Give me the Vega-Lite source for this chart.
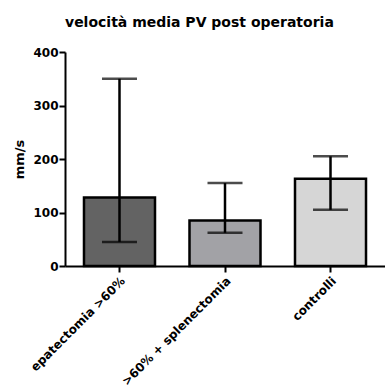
{
  "$schema": "https://vega.github.io/schema/vega-lite/v6.json",
  "autosize": {"type": "none"},
  "width": 320,
  "height": 214,
  "padding": {"left": 65, "top": 52, "right": 0, "bottom": 119},
  "background": "white",
  "title": {
    "text": "velocità media PV post operatoria",
    "font": "DejaVu Sans",
    "fontSize": 14,
    "fontWeight": "bold",
    "color": "black",
    "anchor": "start",
    "frame": "group",
    "offset": 16
  },
  "config": {
    "view": {"stroke": null},
    "axis": {
      "labelFont": "DejaVu Sans",
      "titleFont": "DejaVu Sans",
      "labelFontWeight": "bold",
      "titleFontWeight": "bold",
      "labelFontSize": 12,
      "titleFontSize": 13,
      "labelColor": "black",
      "titleColor": "black",
      "domainColor": "black",
      "tickColor": "black",
      "domainWidth": 2,
      "tickWidth": 2,
      "tickSize": 6,
      "grid": false
    }
  },
  "data": {
    "values": [
      {"gruppo": "epatectomia >60%", "media": 128, "basso": 45, "alto": 350},
      {"gruppo": "epatectomia >60% + splenectomia", "media": 85, "basso": 62, "alto": 155},
      {"gruppo": "controlli", "media": 163, "basso": 105, "alto": 205}
    ]
  },
  "encoding": {
    "x": {
      "field": "gruppo",
      "type": "nominal",
      "sort": null,
      "scale": {"paddingInner": 0.327, "paddingOuter": 0.18},
      "axis": {"title": null, "labelAngle": -45, "labelLimit": 400, "labelPadding": 3}
    }
  },
  "layer": [
    {
      "mark": {"type": "bar", "stroke": "black", "strokeWidth": 2.5},
      "encoding": {
        "y": {
          "field": "media",
          "type": "quantitative",
          "scale": {"domain": [0, 400], "nice": false},
          "axis": {"title": "mm/s", "values": [0, 100, 200, 300, 400], "titlePadding": 6, "labelPadding": 1}
        },
        "fill": {
          "field": "gruppo",
          "type": "nominal",
          "scale": {
            "domain": ["epatectomia >60%", "epatectomia >60% + splenectomia", "controlli"],
            "range": ["#636363", "#a2a2a6", "#d6d6d6"]
          },
          "legend": null
        }
      }
    },
    {
      "mark": {"type": "rule", "color": "black", "strokeWidth": 2.5},
      "encoding": {
        "y": {"field": "basso", "type": "quantitative"},
        "y2": {"field": "alto"}
      }
    },
    {
      "mark": {"type": "tick", "color": "black", "size": 35, "thickness": 2.5},
      "encoding": {"y": {"field": "basso", "type": "quantitative"}}
    },
    {
      "mark": {"type": "tick", "color": "black", "size": 35, "thickness": 2.5},
      "encoding": {"y": {"field": "alto", "type": "quantitative"}}
    }
  ]
}
